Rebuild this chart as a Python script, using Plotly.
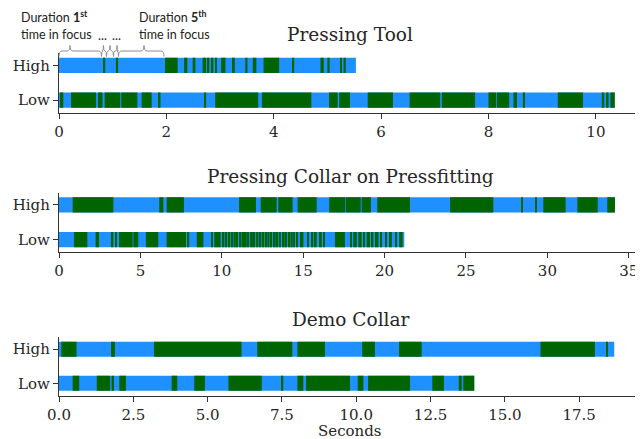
import plotly.graph_objects as go

BLUE = "#1E90FF"
GREEN = "#006400"

levels = ["Low", "High"]
titles = ["Pressing Tool", "Pressing Collar on Pressfitting", "Demo Collar"]

# Pressing Tool
tool_high_end = 5.53
tool_high_green = [(0.82, 0.86), (1.06, 1.10), (1.975, 2.21), (2.33, 2.39), (2.49, 2.54),
                   (2.675, 2.74), (2.77, 2.80), (2.83, 2.875), (2.91, 2.94), (3.02, 3.10),
                   (3.24, 3.275), (3.47, 3.51), (3.61, 3.675), (3.81, 4.10), (4.35, 4.38),
                   (4.87, 4.93), (5.00, 5.04), (5.24, 5.27), (5.30, 5.34)]
tool_low_end = 10.35
tool_low_green = [(0.02, 0.08), (0.225, 0.69), (0.725, 0.81), (0.85, 1.14), (1.16, 1.46),
                  (1.54, 1.725), (1.86, 1.89), (2.71, 2.74), (2.91, 3.71), (3.78, 4.70),
                  (5.03, 5.19), (5.22, 5.42), (5.75, 6.22), (6.53, 7.10), (7.13, 7.75),
                  (8.00, 8.14), (8.155, 8.385), (8.465, 8.53), (8.64, 8.68), (9.29, 9.76),
                  (10.11, 10.155), (10.19, 10.235), (10.27, 10.35)]

# Pressing Collar on Pressfitting
collar_high_end = 34.15
collar_high_green = [(0.84, 3.34), (6.16, 6.41), (6.61, 7.68), (11.06, 12.10), (12.39, 13.37),
                     (13.47, 14.35), (14.66, 15.83), (16.60, 17.57), (17.61, 18.53),
                     (18.59, 19.16), (19.55, 21.56), (24.02, 26.68), (28.38, 28.46),
                     (29.24, 29.34), (29.75, 31.12), (31.84, 33.09), (33.68, 34.15)]
collar_low_end = 21.21
collar_low_green = [(0.92, 1.74), (2.25, 2.46), (3.19, 3.34), (3.44, 3.56), (3.69, 4.52),
                    (4.57, 4.87), (5.34, 6.10), (6.61, 7.80), (7.88, 8.00), (8.46, 8.87),
                    (9.34, 9.42), (9.54, 9.93), (10.05, 10.16), (10.21, 10.30), (10.37, 10.52),
                    (10.57, 10.66), (10.72, 10.86), (10.92, 10.99), (11.06, 11.21),
                    (11.27, 11.35), (11.41, 11.53), (11.60, 11.68), (11.74, 11.91),
                    (11.97, 12.05), (12.11, 12.25), (12.32, 12.38), (12.45, 12.61),
                    (12.67, 12.74), (12.80, 12.93), (13.00, 13.07), (13.14, 13.31),
                    (13.37, 13.44), (13.50, 13.63), (13.70, 13.77), (13.84, 14.01),
                    (14.08, 14.15), (14.22, 14.35), (14.43, 14.49), (14.57, 14.66),
                    (14.80, 15.01), (15.25, 15.31), (15.52, 15.62), (15.72, 15.83),
                    (16.03, 16.14), (16.24, 16.34), (16.95, 17.57), (17.88, 17.98),
                    (18.08, 18.29), (18.39, 18.59), (18.69, 18.80), (18.90, 19.10),
                    (19.20, 19.31), (19.41, 19.62), (19.72, 19.82), (20.03, 20.13),
                    (20.33, 20.44), (20.64, 20.74), (20.90, 21.11)]

# Demo Collar
demo_high_end = 18.68
demo_high_green = [(0.08, 0.59), (1.75, 1.88), (3.195, 6.14), (6.67, 7.85), (8.02, 8.95),
                   (10.20, 10.63), (11.44, 12.20), (16.20, 18.03), (18.42, 18.47)]
demo_low_end = 13.97
demo_low_green = [(0.46, 0.68), (1.27, 1.72), (1.77, 1.85), (2.03, 2.25), (3.79, 3.98),
                  (4.55, 4.91), (5.70, 6.82), (7.49, 7.545), (8.02, 8.22), (8.31, 9.79),
                  (10.05, 10.24), (10.40, 11.81), (12.56, 12.95), (13.45, 13.55),
                  (13.60, 13.97)]

x_ranges = [10.84, 35.75, 19.58]
x_ticks = [[0, 2, 4, 6, 8, 10], [0, 5, 10, 15, 20, 25, 30, 35],
           [0, 2.5, 5, 7.5, 10, 12.5, 15, 17.5]]

panels = [
    {"High": (tool_high_end, tool_high_green), "Low": (tool_low_end, tool_low_green)},
    {"High": (collar_high_end, collar_high_green), "Low": (collar_low_end, collar_low_green)},
    {"High": (demo_high_end, demo_high_green), "Low": (demo_low_end, demo_low_green)},
]

# the page body has an 8px margin, so the figure is sized and positioned to compensate
OFF = 8
W, H = 643 - OFF, 439 - OFF
PLOT_L, PLOT_R = 59, 641           # page pixels
ML, MR = PLOT_L - OFF, (643 - OFF) - (PLOT_R - OFF)
PW = PLOT_R - PLOT_L


def pxx(x):
    return (x - PLOT_L) / PW


def pxy(y):
    return 1 - (y - OFF) / H


domains_px = [(53, 112.5), (192.5, 252), (337, 395.5)]
title_y_px = [34, 176, 319]

BAR_W = 0.44
fig = go.Figure()
for i, panel in enumerate(panels):
    xa = "x" if i == 0 else f"x{i+1}"
    ya = "y" if i == 0 else f"y{i+1}"
    for lvl in ["High", "Low"]:
        end, greens = panel[lvl]
        yv = levels.index(lvl)
        fig.add_trace(go.Bar(x=[end], base=[0], y=[yv], orientation="h", width=BAR_W,
                             marker=dict(color=BLUE, line=dict(width=0)),
                             xaxis=xa, yaxis=ya, showlegend=False, hoverinfo="skip"))
        fig.add_trace(go.Bar(x=[e - s for s, e in greens], base=[s for s, e in greens],
                             y=[yv] * len(greens), orientation="h", width=BAR_W,
                             marker=dict(color=GREEN, line=dict(width=0)),
                             xaxis=xa, yaxis=ya, showlegend=False, hoverinfo="skip"))

AX = "#333333"
TF = dict(family="DejaVu Serif", size=15, color="#262626")
layout = dict(width=W, height=H, margin=dict(l=ML, r=MR, t=0, b=0),
              paper_bgcolor="white", plot_bgcolor="white", barmode="overlay",
              template="none", showlegend=False)
for i in range(3):
    sx = "" if i == 0 else str(i + 1)
    top, bot = domains_px[i]
    xax = dict(
        domain=[0, 1], range=[0, x_ranges[i]], tickvals=x_ticks[i], anchor="y" + sx,
        showline=True, linecolor=AX, linewidth=1.25, ticks="outside", ticklen=5,
        tickwidth=1.25, tickcolor=AX, showgrid=False, zeroline=False, tickfont=TF,
        automargin=False)
    if i == 2:
        xax["tickformat"] = ".1f"
    layout["xaxis" + sx] = xax
    layout["yaxis" + sx] = dict(
        domain=[pxy(bot), pxy(top)], range=[-0.36, 1.36], tickvals=[0, 1],
        ticktext=levels, anchor="x" + sx, showline=True, linecolor=AX, linewidth=1.25,
        ticks="outside", ticklen=5, tickwidth=1.25, tickcolor=AX, showgrid=False,
        zeroline=False, tickfont=TF, automargin=False)
fig.update_layout(**layout)

annots = []
for i, t in enumerate(titles):
    annots.append(dict(text=t, x=0.5, y=pxy(title_y_px[i]), xref="paper", yref="paper",
                       xanchor="center", yanchor="middle", showarrow=False,
                       font=dict(family="DejaVu Serif", size=18.5, color="#262626")))
annots.append(dict(text="Seconds", x=0.5, y=pxy(431), xref="paper", yref="paper",
                   xanchor="center", yanchor="middle", showarrow=False,
                   font=dict(family="DejaVu Serif", size=15, color="#262626")))

AF = dict(family="Lato", size=12.5, color="#222222")
annots.append(dict(text="Duration <b>1<sup>st</sup></b><br>time in focus", x=pxx(19),
                   y=pxy(25), xref="paper", yref="paper", xanchor="left",
                   yanchor="middle", align="left", showarrow=False, font=AF))
annots.append(dict(text="Duration <b>5<sup>th</sup></b><br>time in focus", x=pxx(137),
                   y=pxy(25), xref="paper", yref="paper", xanchor="left",
                   yanchor="middle", align="left", showarrow=False, font=AF))
for cx in [102.7, 116]:
    annots.append(dict(text="...", x=pxx(cx), y=pxy(36), xref="paper", yref="paper",
                       xanchor="center", yanchor="middle", showarrow=False, font=AF))
fig.update_layout(annotations=annots)


def brace_path(xa, xb, xt, yb=56.5, ym=51, yt=45.5):
    r = min(3.0, (xb - xa) / 4.0)
    pts = [("M", xa, yb), ("Q", xa, ym), ("", xa + r, ym), ("L", xt - r, ym),
           ("Q", xt, ym), ("", xt, yt), ("Q", xt, ym), ("", xt + r, ym),
           ("L", xb - r, ym), ("Q", xb, ym), ("", xb, yb)]
    s = ""
    for cmd, x, y in pts:
        s += f"{cmd}{pxx(x):.5f},{pxy(y):.5f} "
    return s.strip()


braces = [(59, 101.5, 70), (101.5, 106.5, 103.5), (106.5, 113.5, 110),
          (113.5, 118.5, 117), (118.5, 164, 144)]
shapes = []
for a, b, t in braces:
    shapes.append(dict(type="path", path=brace_path(a, b, t), xref="paper", yref="paper",
                       line=dict(color="#8c8c8c", width=1)))
fig.update_layout(shapes=shapes)

fig.write_html("out.html")
